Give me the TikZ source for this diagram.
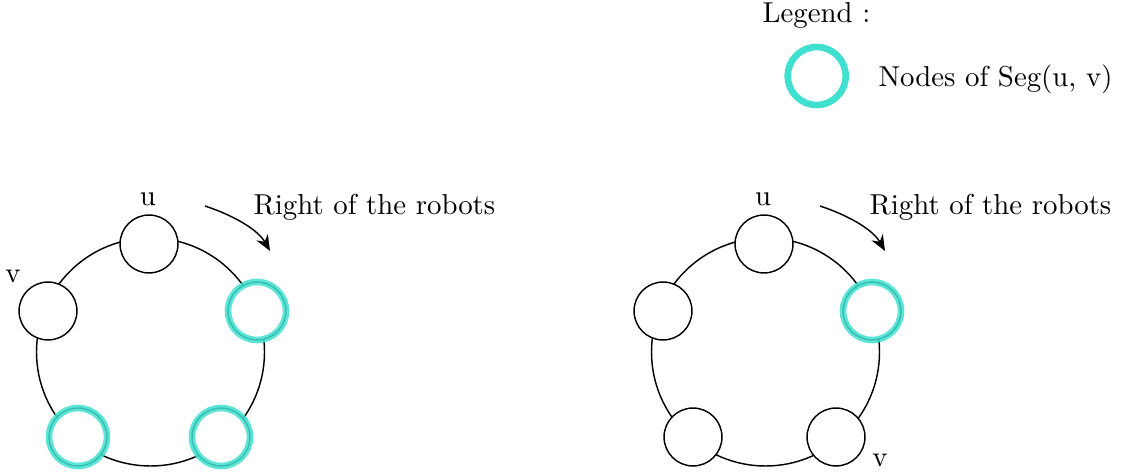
\documentclass[tikz,border=0pt]{standalone}
\usetikzlibrary{arrows.meta}
\definecolor{segcol}{RGB}{64,224,208}
\tikzset{
  robot/.style={circle, draw=black, line width=0.5pt, minimum size=20.1pt, inner sep=0pt, fill=white},
  ring/.style={draw=black, line width=0.5pt},
  segmark/.style={draw=segcol, line width=2.3pt, draw opacity=0.85},
  legmark/.style={draw=segcol, line width=2.3pt},
  lbl/.style={inner sep=1pt},
  dirarrow/.style={-{Stealth[length=5.5pt,width=4.5pt,inset=1.8pt]}, line width=0.5pt},
}
\begin{document}
\begin{tikzpicture}[x=0.347pt, y=-0.347pt]
\useasboundingbox (0,0) rectangle (1121,474);

% Legend
\node[lbl] (legtitle) at (816.5,15.5) {Legend :};
\coordinate (legc) at (816.7,76);
\draw[legmark] (legc) circle (29);
\node[lbl] (legtext) at (995.5,79) {Nodes of Seg(u, v)};

% Left ring
\coordinate (cL) at (150.5,352);
\draw[ring] (cL) circle (114);
\node[robot] (Lu) at (149,244) {};
\node[robot] (Lv) at (48,311) {};
\node[robot] (Lr) at (257,311) {};
\node[robot] (Lbl) at (78,437) {};
\node[robot] (Lbr) at (221,437) {};
\foreach \n in {Lr,Lbl,Lbr} \draw[segmark] (\n.center) circle (29);
\node[lbl] (Lulab) at (148,199) {u};
\node[lbl] (Lvlab) at (13,276) {v};
\coordinate (La1) at (205,206);
\coordinate (La2) at (270,251);
\draw[dirarrow] (La1) .. controls (235,216) and (258,230) .. (La2);
\node[lbl] (Ltext) at (374.5,207) {Right of the robots};

% Right ring
\coordinate (cR) at (765.5,352);
\draw[ring] (cR) circle (114);
\node[robot] (Ru) at (764,244) {};
\node[robot] (Rl) at (663,311) {};
\node[robot] (Rr) at (872,311) {};
\node[robot] (Rbl) at (693,437) {};
\node[robot] (Rbr) at (836,437) {};
\draw[segmark] (Rr.center) circle (29);
\node[lbl] (Rulab) at (763,199) {u};
\node[lbl] (Rvlab) at (880,460) {v};
\coordinate (Ra1) at (820,206);
\coordinate (Ra2) at (885,251);
\draw[dirarrow] (Ra1) .. controls (850,216) and (873,230) .. (Ra2);
\node[lbl] (Rtext) at (990.5,207) {Right of the robots};
\end{tikzpicture}
\end{document}
